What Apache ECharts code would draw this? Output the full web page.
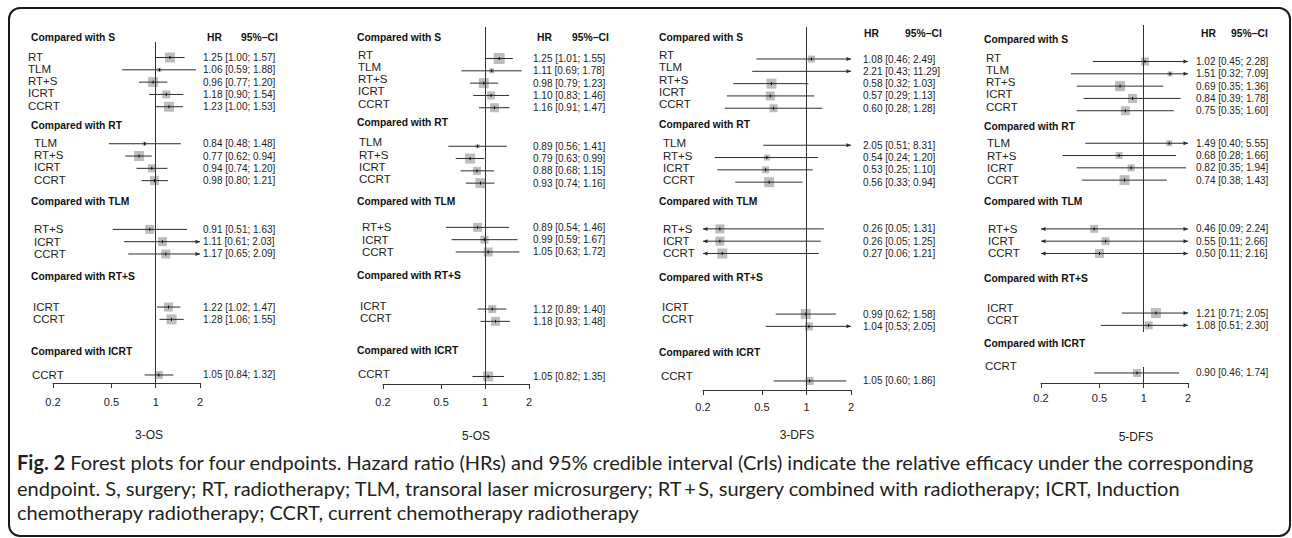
<!DOCTYPE html>
<html><head><meta charset="utf-8">
<script src="https://cdn.jsdelivr.net/npm/echarts@6/dist/echarts.min.js"></script>
<style>html,body{margin:0;padding:0;background:#fff}#chart{width:1292px;height:538px}</style>
</head><body><div id="chart"></div>
<script>
// ---------------- DATA ----------------
const endpoints = ['3-OS', '5-OS', '3-DFS', '5-DFS'];
const comparisons = ['Compared with S', 'Compared with RT', 'Compared with TLM', 'Compared with RT+S', 'Compared with ICRT'];
const treatments = [
  ['RT', 'TLM', 'RT+S', 'ICRT', 'CCRT'],
  ['TLM', 'RT+S', 'ICRT', 'CCRT'],
  ['RT+S', 'ICRT', 'CCRT'],
  ['ICRT', 'CCRT'],
  ['CCRT']
];
const tickValues = [0.2, 0.5, 1, 2];

const hr3OS = [1.25, 1.06, 0.96, 1.18, 1.23, 0.84, 0.77, 0.94, 0.98, 0.91, 1.11, 1.17, 1.22, 1.28, 1.05];
const lo3OS = [1.00, 0.59, 0.77, 0.90, 1.00, 0.48, 0.62, 0.74, 0.80, 0.51, 0.61, 0.65, 1.02, 1.06, 0.84];
const hi3OS = [1.57, 1.88, 1.20, 1.54, 1.53, 1.48, 0.94, 1.20, 1.21, 1.63, 2.03, 2.09, 1.47, 1.55, 1.32];
const wt3OS = [10, 4, 10, 8, 10, 4, 10, 8, 9, 9, 9, 9, 9, 10, 8];

const hr5OS = [1.25, 1.11, 0.98, 1.10, 1.16, 0.89, 0.79, 0.88, 0.93, 0.89, 0.99, 1.05, 1.12, 1.18, 1.05];
const lo5OS = [1.01, 0.69, 0.79, 0.83, 0.91, 0.56, 0.63, 0.68, 0.74, 0.54, 0.59, 0.63, 0.89, 0.93, 0.82];
const hi5OS = [1.55, 1.78, 1.23, 1.46, 1.47, 1.41, 0.99, 1.15, 1.16, 1.46, 1.67, 1.72, 1.40, 1.48, 1.35];
const wt5OS = [11, 5, 10, 8, 9, 4, 10, 8, 10, 9, 8, 9, 8, 9, 10];

const hr3DFS = [1.08, 2.21, 0.58, 0.57, 0.60, 2.05, 0.54, 0.53, 0.56, 0.26, 0.26, 0.27, 0.99, 1.04, 1.05];
const lo3DFS = [0.46, 0.43, 0.32, 0.29, 0.28, 0.51, 0.24, 0.25, 0.33, 0.05, 0.05, 0.06, 0.62, 0.53, 0.60];
const hi3DFS = [2.49, 11.29, 1.03, 1.13, 1.28, 8.31, 1.20, 1.10, 0.94, 1.31, 1.25, 1.21, 1.58, 2.05, 1.86];
const wt3DFS = [7, 3, 10, 9, 8, 3, 6, 7, 10, 9, 9, 10, 10, 8, 8];

const hr5DFS = [1.02, 1.51, 0.69, 0.84, 0.75, 1.49, 0.68, 0.82, 0.74, 0.46, 0.55, 0.50, 1.21, 1.08, 0.90];
const lo5DFS = [0.45, 0.32, 0.35, 0.39, 0.35, 0.40, 0.28, 0.35, 0.38, 0.09, 0.11, 0.11, 0.71, 0.51, 0.46];
const hi5DFS = [2.28, 7.09, 1.36, 1.78, 1.60, 5.55, 1.66, 1.94, 1.43, 2.24, 2.66, 2.16, 2.05, 2.30, 1.74];
const wt5DFS = [8, 5, 10, 9, 9, 6, 7, 7, 10, 8, 8, 9, 10, 8, 8];

const captionLines = [
  'Forest plots for four endpoints. Hazard ratio (HRs) and 95% credible interval (CrIs) indicate the relative efficacy under the corresponding',
  'endpoint. S, surgery; RT, radiotherapy; TLM, transoral laser microsurgery; RT\u2009+\u2009S, surgery combined with radiotherapy; ICRT, Induction',
  'chemotherapy radiotherapy; CCRT, current chemotherapy radiotherapy'
];

// ---------------- LAYOUT ----------------
const FONT = '"Liberation Sans", Arial, Helvetica, sans-serif';
const LMIN = Math.log10(0.2), LMAX = Math.log10(2);
const ROWH = 12.3, BASEY = 37;
const sectionHeaderSlot = [0, 7.2, 13.4, 19.5, 25.6];
const sectionFirstSlot = [1.75, 8.8, 15.6, 22.2, 27.6];

const panels = [
  {x02: 53, x2: 200, top: 42, axisY: 383, headerX: 31, itemX: [28, 34, 34, 33, 32], valueX: 203, hrX: 207, ciX: 241, colY: 37,
   titleX: 149, titleY: 435, margin: 13, markShift: [-1, -1.5, 0.5, -3, -1.5], labelLift: [1, 1, 0, 0, 0], headerShift: [0, 0, 0, 0, 0], gap: null},
  {x02: 383, x2: 529, top: 27, axisY: 384, headerX: 357, itemX: [358, 359, 362, 360, 358], valueX: 533, hrX: 537, ciX: 572, colY: 37,
   titleX: 476, titleY: 436, margin: 12, markShift: [0, 1, -1.5, -1, 0], labelLift: [4, 4, 0, 3, 2], headerShift: [0, -3.5, 0, -1, -1], gap: null},
  {x02: 703, x2: 851, top: 27, axisY: 390, headerX: 659, itemX: [659, 663, 663, 662, 661], valueX: 863, hrX: 864, ciX: 905, colY: 33,
   titleX: 797, titleY: 435, margin: 11, markShift: [0.5, 0, 0, 4, 4.5], labelLift: [4, 2, 0, 7, 5], headerShift: [0, -0.6, 0, 1, 1], gap: null},
  {x02: 1041, x2: 1188, top: 25, axisY: 383, headerX: 984, itemX: [986, 987, 988, 987, 985], valueX: 1196, hrX: 1201, ciX: 1231, colY: 33,
   titleX: 1136, titleY: 437, margin: 9, markShift: [3, -2, 0, 3, -3.5], labelLift: [4, 0, 0, 5, 7], headerShift: [2, 1.4, 0, 2, -8], gap: [332, 367]}
];

const panelData = [
  {hr: hr3OS, lo: lo3OS, hi: hi3OS, wt: wt3OS},
  {hr: hr5OS, lo: lo5OS, hi: hi5OS, wt: wt5OS},
  {hr: hr3DFS, lo: lo3DFS, hi: hi3DFS, wt: wt3DFS},
  {hr: hr5DFS, lo: lo5DFS, hi: hi5DFS, wt: wt5DFS}
];

const pxToSlot = px => (px - BASEY) / ROWH;
const fmt = v => v.toFixed(2);

// ---------------- BUILD ----------------
const grids = [], xAxes = [], yAxes = [], series = [], graphics = [];

panels.forEach((L, pi) => {
  const D = panelData[pi];
  grids.push({left: L.x02, width: L.x2 - L.x02, top: L.top, height: L.axisY - L.top, containLabel: false});
  xAxes.push({
    gridIndex: pi, type: 'value', min: LMIN, max: LMAX,
    axisLine: {show: true, onZero: false, lineStyle: {color: '#333', width: 1}},
    axisTick: {show: true, customValues: tickValues.map(Math.log10), length: 5, lineStyle: {color: '#333', width: 1}},
    axisLabel: {show: true, customValues: tickValues.map(Math.log10), margin: L.margin, fontSize: 11, color: '#222', fontFamily: FONT,
      formatter: v => String(+Math.pow(10, v).toFixed(1))},
    splitLine: {show: false}
  });
  yAxes.push({gridIndex: pi, type: 'value', inverse: true, show: false,
    min: pxToSlot(L.top), max: pxToSlot(L.axisY)});

  // rows
  const rows = [], rowMeta = [];
  let k = 0;
  treatments.forEach((list, s) => {
    list.forEach((name, j) => {
      const slot = sectionFirstSlot[s] + j + L.markShift[s] / ROWH;
      rows.push([Math.log10(D.hr[k]), Math.log10(D.lo[k]), Math.log10(D.hi[k]), slot, D.wt[k]]);
      rowMeta.push({name, s, text: fmt(D.hr[k]) + ' [' + fmt(D.lo[k]) + '; ' + fmt(D.hi[k]) + ']'});
      k++;
    });
  });

  // reference line at HR = 1
  let mlData;
  if (L.gap) {
    mlData = [
      [{coord: [0, pxToSlot(L.top)]}, {coord: [0, pxToSlot(L.gap[0])]}],
      [{coord: [0, pxToSlot(L.gap[1])]}, {coord: [0, pxToSlot(L.axisY)]}]
    ];
  } else {
    mlData = [{xAxis: 0}];
  }

  series.push({
    type: 'custom', xAxisIndex: pi, yAxisIndex: pi, clip: false, animation: false, silent: true,
    data: rows,
    renderItem: (params, api) => {
      const m = rowMeta[params.dataIndex];
      const hr = api.value(0), lo = api.value(1), hi = api.value(2), slot = api.value(3), w = api.value(4);
      const y = api.coord([0, slot])[1];
      const xMinPx = api.coord([LMIN, slot])[0], xMaxPx = api.coord([LMAX, slot])[0];
      const xl = lo < LMIN ? xMinPx : api.coord([lo, slot])[0];
      const xr = hi > LMAX ? xMaxPx : api.coord([hi, slot])[0];
      const ch = [];
      const inRange = hr >= LMIN && hr <= LMAX;
      const xc = api.coord([hr, slot])[0];
      if (inRange && w > 0) {
        ch.push({type: 'rect', shape: {x: xc - w / 2, y: y - w / 2, width: w, height: w}, style: {fill: '#bdbdbd'}});
      }
      ch.push({type: 'line', shape: {x1: xl, y1: y, x2: xr, y2: y}, style: {stroke: '#2b2b2b', lineWidth: 1}});
      if (lo < LMIN) {
        ch.push({type: 'polygon', shape: {points: [[xl, y], [xl + 4.5, y - 2], [xl + 4.5, y + 2]]}, style: {fill: '#2b2b2b'}});
      }
      if (hi > LMAX) {
        ch.push({type: 'polygon', shape: {points: [[xr, y], [xr - 4.5, y - 2], [xr - 4.5, y + 2]]}, style: {fill: '#2b2b2b'}});
      }
      if (inRange) {
        ch.push({type: 'line', shape: {x1: xc, y1: y - 1.5, x2: xc, y2: y + 1.5}, style: {stroke: '#000', lineWidth: 1}});
      }
      ch.push({type: 'text', x: L.itemX[m.s], y: y - L.labelLift[m.s],
        style: {text: m.name, fill: '#1e1e1e', fontSize: 11.5, fontFamily: FONT, align: 'left', verticalAlign: 'middle'}});
      ch.push({type: 'text', x: L.valueX, y: y,
        style: {text: m.text, fill: '#1e1e1e', fontSize: 10, fontFamily: FONT, align: 'left', verticalAlign: 'middle'}});
      return {type: 'group', children: ch};
    },
    markLine: {silent: true, symbol: ['none', 'none'], animation: false, label: {show: false},
      lineStyle: {color: '#333', width: 1, type: 'solid'}, emphasis: {disabled: true}, data: mlData}
  });

  // section headers
  series.push({
    type: 'custom', xAxisIndex: pi, yAxisIndex: pi, clip: false, animation: false, silent: true,
    data: comparisons.map((c, s) => [0, sectionHeaderSlot[s] + L.headerShift[s] / ROWH]),
    renderItem: (params, api) => {
      const y = api.coord([0, api.value(1)])[1];
      return {type: 'text', x: L.headerX, y: y,
        style: {text: comparisons[params.dataIndex], fill: '#111', fontSize: 10.3, fontWeight: 'bold', fontFamily: FONT,
          align: 'left', verticalAlign: 'middle'}};
    }
  });

  // column headers & panel title
  graphics.push({type: 'text', x: L.hrX, y: L.colY, silent: true,
    style: {text: 'HR', fill: '#111', fontSize: 10.3, fontWeight: 'bold', fontFamily: FONT, verticalAlign: 'middle'}});
  graphics.push({type: 'text', x: L.ciX, y: L.colY, silent: true,
    style: {text: '95%\u2212CI', fill: '#111', fontSize: 10.3, fontWeight: 'bold', fontFamily: FONT, verticalAlign: 'middle'}});
  graphics.push({type: 'text', x: L.titleX, y: L.titleY, silent: true,
    style: {text: endpoints[pi], fill: '#222', fontSize: 12, fontFamily: FONT, align: 'center', verticalAlign: 'middle'}});
});

// frame
graphics.push({type: 'rect', silent: true, z: -1,
  shape: {x: 9, y: 8, width: 1281, height: 528, r: 11},
  style: {fill: 'none', stroke: '#1a1a1a', lineWidth: 2}});

// caption
const CAPFONT = 'Lato, "Open Sans", sans-serif';
const CAPSIZE = 20;
const capY = [462, 488, 512];
captionLines.forEach((t, i) => {
  graphics.push({type: 'text', x: 17, y: capY[i], silent: true,
    style: {text: i === 0 ? '{b|Fig. 2} ' + t : t, fill: '#231f20', fontSize: CAPSIZE, fontFamily: CAPFONT, verticalAlign: 'middle',
      rich: {b: {fontWeight: 'bold', fontSize: CAPSIZE, fontFamily: CAPFONT, fill: '#231f20'}}}});
});

const chart = echarts.init(document.getElementById('chart'), null, {renderer: 'svg'});
chart.setOption({
  animation: false,
  backgroundColor: '#fff',
  grid: grids, xAxis: xAxes, yAxis: yAxes, series: series, graphic: graphics
});
</script></body></html>
